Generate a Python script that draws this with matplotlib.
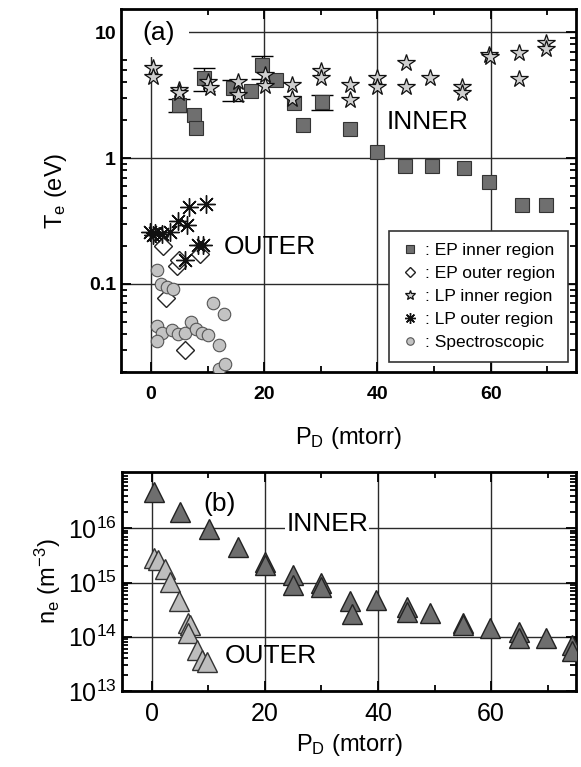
import matplotlib
matplotlib.use("Agg")
import matplotlib.pyplot as plt
from matplotlib.patches import Rectangle
from matplotlib.ticker import LogLocator, NullFormatter, FixedLocator

plt.rcParams['font.family'] = ['Liberation Sans', 'DejaVu Sans']
plt.rcParams['mathtext.fontset'] = 'custom'
plt.rcParams['mathtext.rm'] = 'Liberation Sans'
plt.rcParams['mathtext.it'] = 'Liberation Sans'

# ---- panel (a): electron temperature ----
ep_in_x = [5.0, 7.6, 8.05, 9.3, 14.5, 17.6, 19.6, 22.1, 25.2, 26.8, 30.2, 35.2, 39.9,
           44.8, 49.6, 55.2, 59.7, 65.5, 69.8]
ep_in_y = [2.63, 2.19, 1.72, 4.29, 3.57, 3.42, 5.47, 4.16, 2.72, 1.83, 2.80, 1.69, 1.12,
           0.87, 0.87, 0.84, 0.65, 0.42, 0.42]

# error bars on some EP inner points
err_x = [5.0, 9.3, 14.5, 19.6, 30.2]
err_y = [2.63, 4.29, 3.57, 5.47, 2.80]
err_hi = [2.94, 5.15, 4.13, 6.5, 3.16]
err_lo = [2.32, 3.40, 2.85, 4.24, 2.40]

ep_out_x = [1.5, 2.2, 4.6, 4.9, 8.75, 2.64, 6.0]
ep_out_y = [0.24, 0.20, 0.14, 0.155, 0.173, 0.077, 0.030]

lp_in_x = [0.4, 0.4, 5.0, 5.0, 10.1, 10.4, 15.3, 15.3, 20.1, 20.1, 24.9, 24.9, 30.0, 30.0,
           35.2, 35.2, 39.9, 39.9, 45.0, 45.0, 49.2, 55.0, 55.0, 59.7, 59.9, 64.9, 64.9,
           69.8, 69.8]
lp_in_y = [5.15, 4.37, 3.46, 3.3, 4.04, 3.57, 4.04, 3.16, 4.56, 3.73, 3.8, 2.92, 4.93, 4.29,
           3.8, 2.89, 4.29, 3.64, 5.73, 3.64, 4.29, 3.64, 3.3, 6.55, 6.3, 6.85, 4.24,
           8.2, 7.3]

lp_out_x = [-0.2, 0.7, 1.9, 3.35, 0.3, 4.8, 6.3, 6.7, 9.8, 8.3, 9.2, 6.1]
lp_out_y = [0.26, 0.255, 0.25, 0.26, 0.245, 0.318, 0.294, 0.41, 0.43, 0.204, 0.204, 0.155]

spec_x = [1.0, 1.7, 2.8, 3.9, 10.9, 12.9, 1.0, 1.9, 3.8, 4.8, 6.0, 7.0, 7.9, 9.0, 10.0,
          1.0, 12.0, 12.0, 13.0]
spec_y = [0.128, 0.100, 0.095, 0.091, 0.071, 0.058, 0.046, 0.041, 0.043, 0.040, 0.041,
          0.050, 0.044, 0.041, 0.039, 0.035, 0.033, 0.021, 0.023]

# ---- panel (b): electron density ----
ne_in_x = [0.3, 5.0, 10.1, 15.3, 20.0, 20.0, 24.9, 24.9, 30.0, 30.0, 35.1, 35.4, 39.7,
           45.2, 45.2, 49.2, 55.0, 55.0, 59.9, 64.9, 65.0, 69.8, 74.3, 74.3]
ne_in_y = [4.6e16, 2.0e16, 9.5e15, 4.5e15, 2.4e15, 2.1e15, 1.37e15, 9.0e14, 9.7e14, 8.4e14,
           4.6e14, 2.6e14, 4.8e14, 3.5e14, 2.9e14, 2.8e14, 1.8e14, 1.66e14, 1.45e14,
           1.2e14, 9.6e13, 9.6e13, 7.0e13, 5.4e13]

ne_out_x = [0.4, 1.0, 2.3, 3.2, 4.8, 6.3, 6.7, 6.3, 8.05, 8.9, 9.8]
ne_out_y = [2.8e15, 2.6e15, 1.8e15, 1.03e15, 4.6e14, 1.8e14, 1.66e14, 1.17e14, 5.8e13,
            3.8e13, 3.5e13]

x_major = [0, 20, 40, 60]
x_minor = [10, 30, 50, 70]

fig = plt.figure(figsize=(5.81, 7.67), dpi=100)
ax1 = fig.add_axes([0.208, 0.515, 0.783, 0.473])
ax2 = fig.add_axes([0.210, 0.099, 0.781, 0.286])

for ax in (ax1, ax2):
    ax.set_yscale('log')
    ax.set_xlim(-5.3, 75)
    ax.xaxis.set_major_locator(FixedLocator(x_major))
    ax.xaxis.set_minor_locator(FixedLocator(x_minor))
    ax.yaxis.set_minor_locator(LogLocator(base=10, subs=range(2, 10), numticks=20))
    ax.yaxis.set_minor_formatter(NullFormatter())
    ax.tick_params(which='both', direction='in', top=True, right=True, width=1.3)
    ax.tick_params(which='major', length=7)
    ax.tick_params(which='minor', length=4)
    ax.grid(True, which='major', color='#2a2a2a', linewidth=1.0)
    ax.set_axisbelow(True)
    for s in ax.spines.values():
        s.set_linewidth(2)

# panel (a)
ax1.set_ylim(0.02, 15.2)
ax1.set_yticks([0.1, 1, 10])
ax1.set_yticklabels(['0.1', '1', '10'])
ax1.set_xticklabels([str(v) for v in x_major])
ax1.tick_params(which='major', labelsize=14)
for lbl in ax1.get_xticklabels() + ax1.get_yticklabels():
    lbl.set_fontweight('bold')
ax1.tick_params(axis='x', pad=10)

# white patch behind the "(a)" label hides the grid there
ax1.add_patch(Rectangle((-5.3, 6.4), 12.0, 10, facecolor='white', edgecolor='none',
                        zorder=1))

ax1.errorbar(err_x, err_y, yerr=[[a - b for a, b in zip(err_y, err_lo)],
                                 [b - a for a, b in zip(err_y, err_hi)]],
             fmt='none', ecolor='black', elinewidth=1, capsize=8, capthick=1, zorder=3)
ax1.plot(ep_in_x, ep_in_y, 's', ms=10, mfc='#6f6f6f', mec='#333333', mew=0.8,
         label=': EP inner region', zorder=4)
ax1.plot(ep_out_x, ep_out_y, 'D', ms=9, mfc='white', mec='#222222', mew=1.0,
         label=': EP outer region', zorder=4)
ax1.plot(lp_in_x, lp_in_y, '*', ms=13, mfc='#cfcfcf', mec='#111111', mew=0.9,
         label=': LP inner region', zorder=5)
ax1.plot(lp_out_x, lp_out_y, marker=(8, 2, 0), ls='none', ms=13, mec='#111111', mew=1.0,
         label=': LP outer region', zorder=5)
ax1.plot(spec_x, spec_y, 'o', ms=9, mfc='#c3c3c3', mec='#555555', mew=0.8,
         label=': Spectroscopic', zorder=4)

ax1.text(-1.5, 9.8, '(a)', fontsize=19, va='center', ha='left', zorder=6)
ax1.text(48.8, 1.93, 'INNER', fontsize=19, va='center', ha='center', zorder=6)
ax1.text(21, 0.198, 'OUTER', fontsize=19, va='center', ha='center', zorder=6)

leg = ax1.legend(loc='lower right', bbox_to_anchor=(0.982, 0.027), borderaxespad=0,
                 fancybox=False, edgecolor='#333333', framealpha=1, fontsize=12.5,
                 markerscale=0.6, handlelength=1.0, handletextpad=0.4,
                 labelspacing=0.45, borderpad=0.7)
leg.get_frame().set_linewidth(1.2)

ax1.set_ylabel('T$_e$ (eV)', fontsize=17, labelpad=14)
ax1.set_xlabel('P$_D$ (mtorr)', fontsize=17, labelpad=16)

# panel (b)
ax2.set_ylim(1e13, 1.1e17)
ax2.set_yticks([1e13, 1e14, 1e15, 1e16])
ax2.set_yticklabels(['$10^{13}$', '$10^{14}$', '$10^{15}$', '$10^{16}$'])
ax2.set_xticklabels([str(v) for v in x_major])
ax2.tick_params(which='major', labelsize=18)
ax2.tick_params(axis='x', pad=8)

ax2.plot(ne_in_x, ne_in_y, '^', ms=14, mfc='#6e6e6e', mec='#222222', mew=1.0, zorder=4)
ax2.plot(ne_out_x, ne_out_y, '^', ms=14, mfc='#bdbdbd', mec='#333333', mew=1.0, zorder=4)

ax2.text(11.9, 10**16.45, '(b)', fontsize=19, va='center', ha='center', zorder=6)
ax2.text(31, 10**16.07, 'INNER', fontsize=19, va='center', ha='center', zorder=6,
         bbox=dict(facecolor='white', edgecolor='none', pad=1))
ax2.text(21, 10**13.64, 'OUTER', fontsize=19, va='center', ha='center', zorder=6)

ax2.set_ylabel('n$_e$ (m$^{-3}$)', fontsize=17, labelpad=4)
ax2.set_xlabel('P$_D$ (mtorr)', fontsize=17, labelpad=4)

fig.savefig('out.png', dpi=100)
